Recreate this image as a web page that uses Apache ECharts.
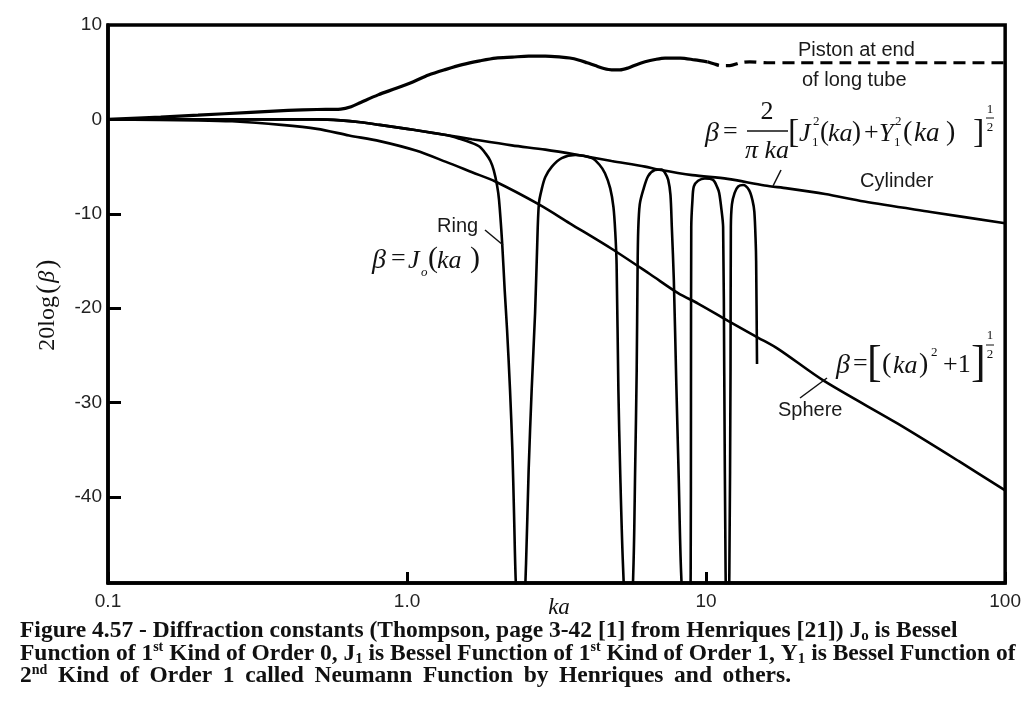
<!DOCTYPE html>
<html><head><meta charset="utf-8">
<script src="https://cdn.jsdelivr.net/npm/echarts@6/dist/echarts.min.js"></script>
<style>html,body{margin:0;padding:0;background:#fff}#c{width:1024px;height:717px}</style>
</head><body><div id="c"></div>
<script>
// ---------- data ----------
const xTickValues = [0.1, 1, 10, 100];
const xTickLabels = ['0.1', '1.0', '10', '100'];
const yTickValues = [10, 0, -10, -20, -30, -40];

// Piston at end of long tube (solid part)
const pistonData = [[0.1,0.0],[0.15,0.25],[0.2,0.45],[0.3,0.75],[0.4,0.95],[0.5,1.05],[0.6,1.1],[0.65,1.35],[0.7,1.8],[0.8,2.6],[0.92,3.3],[1.05,4.0],[1.18,4.7],[1.35,5.3],[1.53,5.8],[1.75,6.2],[1.98,6.5],[2.25,6.6],[2.55,6.7],[2.9,6.7],[3.28,6.6],[3.5,6.5],[3.74,6.3],[4.0,6.0],[4.26,5.7],[4.55,5.4],[4.83,5.25],[5.15,5.25],[5.49,5.45],[5.85,5.8],[6.25,6.1],[6.75,6.35],[7.29,6.5],[8.2,6.5],[9.17,6.3],[10.1,6.1]];
// Piston (dashed continuation)
const pistonDashData = [[10.1,6.1],[10.6,5.9],[11.2,5.7],[12,5.7],[13,6.0],[14,6.1],[16,6.0],[20,6.0],[30,6.0],[50,6.0],[100,6.0]];
// Cylinder
const cylinderData = [[0.1,0.0],[0.2,0.0],[0.3,0.0],[0.4,0.0],[0.5,0.0],[0.6,-0.1],[0.7,-0.3],[0.81,-0.58],[1.0,-1.0],[1.1,-1.2],[1.35,-1.65],[1.65,-2.1],[2.24,-2.75],[2.9,-3.2],[3.74,-3.77],[4.83,-4.4],[6.25,-5.0],[6.9,-5.3],[9.0,-5.9],[11.8,-6.3],[15.7,-7.0],[18.7,-7.3],[25,-7.9],[33.8,-8.7],[56.4,-9.8],[100,-11.0]];
// Sphere
const sphereData = [[0.1,0.0],[0.2,-0.1],[0.26,-0.2],[0.38,-0.58],[0.5,-1.0],[0.64,-1.7],[0.81,-2.3],[1.07,-3.3],[1.35,-4.5],[1.65,-5.6],[1.98,-6.6],[2.76,-9.0],[3.5,-11.0],[4.83,-13.7],[6.5,-16.4],[8.06,-18.4],[9.4,-19.5],[11.8,-21.3],[14.9,-23.1],[17.4,-24.3],[24.8,-27.7],[43.6,-32.2],[70,-36.2],[100,-39.3]];
// Ring
const ringData = [[0.1,0],[0.2,0],[0.3,0],[0.4,0],[0.5,0],[0.6,-0.1],[0.7,-0.3],[0.81,-0.58],[1.0,-1.0],[1.1,-1.2],[1.35,-1.65],[1.5,-2.05],[1.65,-2.5],[1.75,-2.9],[1.83,-3.6],[1.9,-4.4],[1.95,-5.4],[2.0,-7.0],[2.03,-8.5],[2.08,-13.1],[2.12,-18],[2.16,-22.3],[2.21,-28.7],[2.25,-35],[2.28,-42],[2.31,-49],[2.405,-60],[2.5,-47],[2.55,-37.2],[2.61,-28.7],[2.68,-20.5],[2.72,-14],[2.76,-8.9],[2.83,-7.2],[2.9,-6.1],[3.05,-5.0],[3.29,-4.1],[3.65,-3.77],[4.15,-4.1],[4.4,-4.8],[4.59,-5.7],[4.78,-7.3],[4.9,-9.3],[4.97,-12],[5.02,-15.3],[5.09,-28.7],[5.16,-37.2],[5.27,-47],[5.52,-60],[5.72,-47],[5.79,-37.2],[5.86,-26.6],[5.9,-16],[5.93,-11.7],[6.0,-9.0],[6.16,-7.5],[6.4,-6.0],[6.74,-5.36],[7.1,-5.3],[7.3,-5.7],[7.47,-6.4],[7.6,-8.0],[7.68,-11.4],[7.8,-17],[7.95,-28],[8.1,-38],[8.25,-48],[8.65,-60],[8.88,-48],[8.9,-30],[8.92,-11.4],[9.0,-8.6],[9.1,-7.1],[9.4,-6.5],[9.9,-6.25],[10.55,-6.4],[10.9,-7.2],[11.06,-7.8],[11.25,-9.5],[11.4,-11.4],[11.5,-26.9],[11.62,-48],[11.79,-60],[11.96,-48],[12.07,-26.6],[12.1,-11.4],[12.2,-9.0],[12.45,-7.8],[12.8,-7.1],[13.3,-6.95],[13.93,-7.5],[14.3,-8.6],[14.5,-9.8],[14.65,-13],[14.7,-15],[14.8,-25.9]];

// ---------- helpers ----------
const S = 'Liberation Serif', A = 'Liberation Sans';
function T(text, x, y, size, o) {
  return { type: 'text', x: x, y: y, silent: true, z: 10,
    style: Object.assign({ text: text, fontSize: size, fontFamily: S, fill: '#111',
      textAlign: 'left', textVerticalAlign: 'middle' }, o || {}) };
}
function TA(text, x, y, size) { return T(text, x, y, size, { fontFamily: A, fill: '#1a1a1a' }); }
function L(x1, y1, x2, y2, w) {
  return { type: 'line', silent: true, z: 10, shape: { x1: x1, y1: y1, x2: x2, y2: y2 },
    style: { stroke: '#111', lineWidth: w || 1.3 } };
}
const I = { fontStyle: 'italic' };
const C = { textAlign: 'center' };
const IC = { fontStyle: 'italic', textAlign: 'center' };

const capRich = {
  sub: { fontSize: 15, fontWeight: 'bold', fontFamily: S, fill: '#111', verticalAlign: 'bottom', lineHeight: 16 },
  sup: { fontSize: 14, fontWeight: 'bold', fontFamily: S, fill: '#111', verticalAlign: 'top', lineHeight: 14 }
};
function CAP(text, y) {
  return T(text, 20, y, 23.5, { fontWeight: 'bold', lineHeight: 26, rich: capRich });
}

const graphics = [
  TA('Piston at end', 798, 50, 20),
  TA('of long tube', 802, 80, 20),
  TA('Cylinder', 860, 181, 20),
  TA('Ring', 437, 226, 20),
  TA('Sphere', 778, 410, 20),
  L(485, 230, 503, 245, 1.5),
  L(773, 186, 781, 170, 1.5),
  L(800, 398, 827, 378, 1.5),
  // x-axis title
  T('ka', 559, 608, 23, IC),
  // cylinder formula
  T('β', 705, 134, 28, I), T('=', 723, 132, 26),
  T('2', 767, 112, 26, C), L(747, 131, 788, 131, 1.3), T('π ka', 767, 151, 26, IC),
  T('[', 788, 133, 34),
  T('J', 799, 134, 26, I), T('2', 813, 122, 13), T('1', 812, 143, 13),
  T('(', 820, 133, 27), T('ka', 828, 134, 26, I), T(')', 852, 133, 27),
  T('+', 864, 133, 26),
  T('Y', 879, 134, 26, I), T('2', 895, 122, 13), T('1', 894, 143, 13),
  T('(', 903, 133, 28), T('ka', 914, 134, 27, I), T(')', 946, 133, 28),
  T(']', 973, 133, 34),
  T('1', 990, 110, 13, C), L(986, 118, 994, 118, 1), T('2', 990, 128, 13, C),
  // ring formula
  T('β', 372, 261, 28, I), T('=', 391, 259, 26), T('J', 408, 261, 26, I),
  T('o', 421, 273, 13, I), T('(', 428, 259, 30), T('ka', 437, 261, 26, I), T(')', 470, 259, 30),
  // sphere formula
  T('β', 836, 366, 28, I), T('=', 853, 364, 26), T('[', 867, 364, 44),
  T('(', 882, 365, 28), T('ka', 893, 366, 26, I), T(')', 919, 365, 28), T('2', 931, 353, 13),
  T('+1', 943, 365, 26), T(']', 971, 364, 44),
  T('1', 990, 336, 13, C), L(986, 345, 994, 345, 1), T('2', 990, 355, 13, C),
  // caption
  CAP('Figure 4.57 - Diffraction constants (Thompson, page 3-42 [1] from Henriques [21]) J{sub|o} is Bessel', 631),
  CAP('Function of 1{sup|st} Kind of Order 0, J{sub|1} is Bessel Function of 1{sup|st} Kind of Order 1, Y{sub|1} is Bessel Function of', 653.5),
  CAP('2{sup|nd} Kind of Order 1 called Neumann Function by Henriques and others.'.replace(/ /g, ' \u2009'), 676)
];

function lineSeries(data, width, dashed) {
  return { type: 'line', data: data, showSymbol: false, symbol: 'none', silent: true,
    smooth: 0.3, clip: true,
    lineStyle: { color: '#000', width: width, type: dashed ? [12, 7] : 'solid' } };
}

const chart = echarts.init(document.getElementById('c'), null, { renderer: 'canvas' });
chart.setOption({
  animation: false,
  backgroundColor: '#fff',
  textStyle: { fontFamily: A },
  grid: { left: 108, top: 25, right: 16, bottom: 134, show: true, borderColor: '#000', borderWidth: 3.5, backgroundColor: 'transparent' },
  xAxis: {
    type: 'log', logBase: 10, min: 0.1, max: 100,
    axisLine: { show: true, onZero: false, lineStyle: { color: '#000', width: 3.5 } },
    axisTick: { show: true, inside: true, length: 11, lineStyle: { color: '#000', width: 3 } },
    minorTick: { show: false }, splitLine: { show: false },
    axisLabel: {
      fontFamily: A, fontSize: 19, color: '#222', margin: 9, showMinLabel: true, showMaxLabel: true,
      formatter: function (v) {
        const i = xTickValues.findIndex(t => Math.abs(Math.log10(t) - Math.log10(v)) < 1e-6);
        return i >= 0 ? xTickLabels[i] : '';
      }
    }
  },
  yAxis: {
    type: 'value', min: -49.1, max: 10,
    name: '{a|20log}{b|(}{c|β}{b|)}', nameLocation: 'middle', nameRotate: 90, nameGap: 46,
    nameTextStyle: { rich: {
      a: { fontFamily: S, fontSize: 24, color: '#111' },
      b: { fontFamily: S, fontSize: 28, color: '#111', padding: [0, 2, 0, 2] },
      c: { fontFamily: S, fontSize: 24, fontStyle: 'italic', color: '#111' } } },
    axisLine: { show: true, onZero: false, lineStyle: { color: '#000', width: 3.5 } },
    axisTick: { show: true, inside: true, length: 13, customValues: [0, -10, -20, -30, -40], lineStyle: { color: '#000', width: 3 } },
    splitLine: { show: false },
    axisLabel: {
      fontFamily: A, fontSize: 19, color: '#222', margin: 6, customValues: yTickValues,
      formatter: function (v) { return (Math.abs(v % 10) < 1e-9) ? String(Math.round(v)) : ''; }
    }
  },
  series: [
    lineSeries(pistonData, 3.2, false),
    lineSeries(pistonDashData, 3.2, true),
    lineSeries(cylinderData, 2.6, false),
    lineSeries(sphereData, 2.6, false),
    lineSeries(ringData, 2.6, false)
  ],
  graphic: graphics
});
</script>
</body></html>
